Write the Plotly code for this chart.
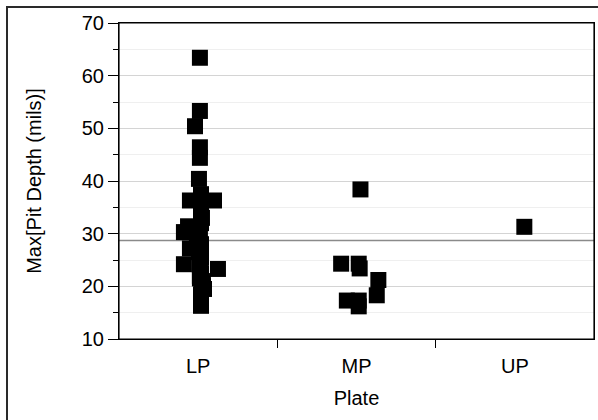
import plotly.graph_objects as go

# ---- data ----
categories = ["LP", "MP", "UP"]

lp_values = [63.4, 53.3, 50.4, 46.4, 44.4, 40.4, 37.5, 36.3, 36.3, 36.0,
             34.2, 33.0, 32.0, 31.4, 30.3, 30.0, 29.0, 28.0, 27.2, 26.5,
             25.5, 24.2, 24.0, 23.3, 22.5, 22.0, 21.5, 21.0, 20.5, 20.0,
             19.5, 18.5, 17.8, 17.0, 16.3]
lp_jitter = [0.011, 0.011, -0.02, 0.011, 0.011, 0.005, 0.018, -0.052, 0.10, 0.018,
             0.018, 0.024, 0.018, -0.064, -0.09, 0.011, -0.008, 0.018, -0.052, 0.005,
             0.018, -0.09, 0.011, 0.125, 0.018, 0.011, 0.011, 0.024, 0.03, 0.03,
             0.037, 0.018, 0.018, 0.018, 0.018]

mp_values = [38.4, 24.3, 24.3, 23.4, 21.2, 18.3, 17.3, 17.3, 16.2]
mp_jitter = [0.025, -0.097, 0.014, 0.02, 0.138, 0.128, -0.061, 0.014, 0.014]

up_values = [31.3]
up_jitter = [0.06]

y_ticks = [10, 20, 30, 40, 50, 60, 70]

# ---- build ----
xs, ys = [], []
for i, (vals, jit) in enumerate([(lp_values, lp_jitter), (mp_values, mp_jitter), (up_values, up_jitter)]):
    for v, j in zip(vals, jit):
        xs.append(i + j)
        ys.append(v)

grand_mean = sum(ys) / len(ys)

font_family = "Liberation Sans, Arial, sans-serif"

fig = go.Figure()
fig.add_trace(go.Scatter(
    x=xs, y=ys, mode="markers",
    marker=dict(symbol="square", size=16, color="black", line=dict(width=0)),
    showlegend=False, hoverinfo="skip", xaxis="x", yaxis="y",
))
# dummy trace for tick-mark axis
fig.add_trace(go.Scatter(x=[-0.5, 2.5], y=[None, None], mode="markers",
                         xaxis="x2", yaxis="y", showlegend=False, hoverinfo="skip"))

fig.add_shape(type="line", xref="paper", yref="y", x0=0, x1=1,
              y0=grand_mean, y1=grand_mean, line=dict(color="#8a8a8a", width=1.5),
              layer="below")

# plot frame
fig.add_shape(type="rect", xref="paper", yref="paper", x0=0, x1=1, y0=0, y1=1,
              line=dict(color="black", width=1.2), fillcolor="rgba(0,0,0,0)")

# outer border (partially cut off like reference)
W, H = 598, 420
ml, mr, mt, mb = 119, 4, 23, 81
pw, ph = W - ml - mr, H - mt - mb
fig.add_shape(type="rect", xref="paper", yref="paper",
              x0=(7 - ml) / pw, x1=(W + 10 - ml) / pw,
              y0=(H - mb - (H + 10)) / ph, y1=(H - mb - 7) / ph,
              line=dict(color="#2a2a2a", width=2), fillcolor="rgba(0,0,0,0)")

fig.update_layout(
    width=W, height=H,
    margin=dict(l=ml, r=mr, t=mt, b=mb),
    paper_bgcolor="white", plot_bgcolor="white",
    font=dict(family=font_family, size=20, color="black"),
    xaxis=dict(
        range=[-0.5, 2.5], tickvals=[0, 1, 2], ticktext=categories,
        ticks="", showgrid=False, zeroline=False,
        showline=True, linecolor="black", linewidth=1, mirror=True,
        title=dict(text="Plate", font=dict(size=20), standoff=14),
        ticklabelstandoff=9,
    ),
    xaxis2=dict(
        overlaying="x", matches="x", range=[-0.5, 2.5], tickvals=[0.5, 1.5],
        ticks="outside", ticklen=8, tickcolor="black", showticklabels=False,
        showgrid=False, zeroline=False, showline=False, side="bottom",
    ),
    yaxis=dict(
        range=[10, 70], tickvals=y_ticks, ticks="outside", ticklen=10,
        tickcolor="black", showgrid=True, gridcolor="#d4d4d4", gridwidth=1,
        zeroline=False, showline=True, linecolor="black", linewidth=1, mirror=True,
        minor=dict(dtick=5, ticks="outside", ticklen=5, tickcolor="black",
                   showgrid=True, gridcolor="#efefef", gridwidth=1),
        title=dict(text="Max[Pit Depth (mils)]", font=dict(size=20), standoff=34),
    ),
)

fig.write_html("out.html", config={"displayModeBar": False},
               post_script="document.body.style.margin='0';")
